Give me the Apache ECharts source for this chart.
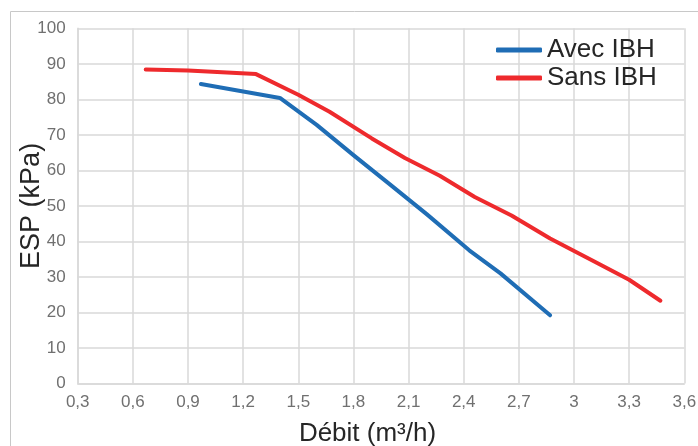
<!DOCTYPE html>
<html>
<head>
<meta charset="utf-8">
<script src="https://cdn.jsdelivr.net/npm/echarts@6/dist/echarts.min.js"></script>
<style>
  html, body { margin: 0; padding: 0; background: #fff; }
  #chart { width: 698px; height: 446px; }
</style>
</head>
<body>
<div id="chart"></div>
<script>
// courbes ESP / débit
const seriesNames = ['Avec IBH', 'Sans IBH']
const avecDebit = [0.97, 1.4, 1.6, 1.8, 2.0, 2.2, 2.43, 2.6, 2.87]
const avecEsp = [84.3, 80.4, 72.8, 64.3, 56.0, 47.6, 37.5, 31.0, 19.2]
const sansDebit = [0.67, 0.9, 1.27, 1.5, 1.67, 1.9, 2.08, 2.27, 2.46, 2.66, 2.87, 3.1, 3.3, 3.47]
const sansEsp = [88.4, 88.1, 87.1, 81.3, 76.5, 69.0, 63.5, 58.5, 52.5, 47.3, 40.8, 34.6, 29.2, 23.3]

const font = '"Liberation Sans", Arial, sans-serif'
const gridColor = '#d9d9d9'

const chart = echarts.init(document.getElementById('chart'))

const zip = (xs, ys) => xs.map((x, i) => [x, ys[i]])

const lineConfig = {
  type: 'line',
  symbol: 'none',
  smooth: false,
  lineStyle: { width: 4, cap: 'round', join: 'round' }
}

const option = {
  animation: false,
  grid: { left: 77.7, right: 13.7, top: 28.3, bottom: 62.5, outerBoundsMode: 'none', containLabel: false },
  graphic: [
    {
      type: 'rect',
      shape: { x: 10.5, y: 11.5, width: 700, height: 460 },
      style: { fill: 'none', stroke: '#c8c8c8', lineWidth: 1 },
      z: -1
    }
  ],
  legend: {
    orient: 'vertical',
    left: 491,
    top: 31,
    itemWidth: 46,
    itemHeight: 5,
    itemGap: 0,
    itemTextGap: 16,
    icon: 'roundRect',
    data: seriesNames,
    textStyle: { fontFamily: font, fontSize: 26, color: '#262626', lineHeight: 28 }
  },
  xAxis: {
    type: 'value',
    min: 0.3,
    max: 3.6,
    interval: 0.3,
    name: 'Débit (m³/h)',
    nameLocation: 'middle',
    nameGap: 37,
    nameMoveOverlap: false,
    nameTextStyle: { fontFamily: font, fontSize: 26, color: '#262626', padding: [0, 27, 0, 0] },
    axisLine: { lineStyle: { color: gridColor, width: 1.5 } },
    axisTick: { show: false },
    axisLabel: {
      margin: 10,
      fontFamily: font,
      fontSize: 17,
      color: '#707070',
      formatter: v => String(parseFloat(v.toFixed(1))).replace('.', ',')
    },
    splitLine: { show: true, lineStyle: { color: gridColor, width: 1.5 } }
  },
  yAxis: {
    type: 'value',
    min: 0,
    max: 100,
    interval: 10,
    name: 'ESP (kPa)',
    nameLocation: 'middle',
    nameGap: 33,
    nameMoveOverlap: false,
    nameTextStyle: { fontFamily: font, fontSize: 27, color: '#262626' },
    axisLine: { show: true, lineStyle: { color: gridColor, width: 1.5 } },
    axisTick: { show: false },
    axisLabel: { margin: 12, fontFamily: font, fontSize: 17, color: '#707070' },
    splitLine: { show: true, lineStyle: { color: gridColor, width: 1.5 } }
  },
  series: [
    { name: seriesNames[0], color: '#1f6db5', data: zip(avecDebit, avecEsp), ...lineConfig },
    { name: seriesNames[1], color: '#ee2a2d', data: zip(sansDebit, sansEsp), ...lineConfig }
  ]
}

chart.setOption(option)
</script>
</body>
</html>
